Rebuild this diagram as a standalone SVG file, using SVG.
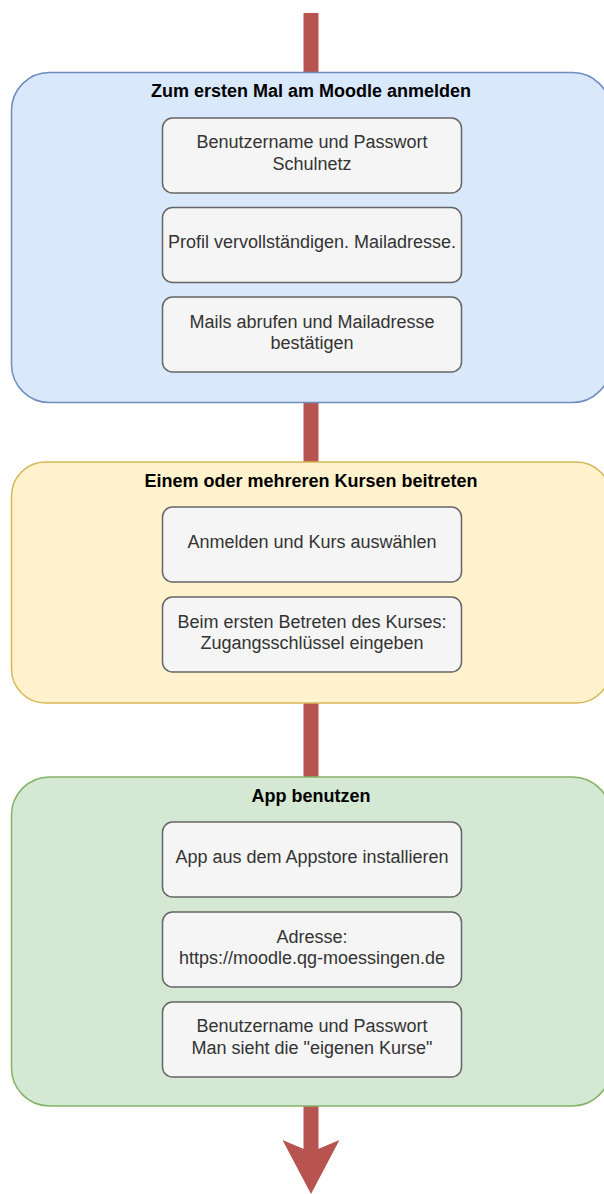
<svg xmlns="http://www.w3.org/2000/svg" width="604" height="1194" viewBox="0 0 604 1194">
  <defs>
    <marker id="arrowHead" markerUnits="userSpaceOnUse" viewBox="0 0 54 57" markerWidth="54" markerHeight="57" refX="12" refY="28.5" orient="auto">
      <path d="M0,0 L12,28.5 L0,57 L54,28.5 Z" fill="#b85450"/>
    </marker>
    <style>
      .conn { stroke: #b85450; stroke-width: 15; fill: none; }
      .blue { fill: #dae8fc; stroke: #6c8ebf; stroke-width: 1.5; }
      .yellow { fill: #fff2cc; stroke: #d6b656; stroke-width: 1.5; }
      .green { fill: #d5e8d4; stroke: #82b366; stroke-width: 1.5; }
      .step { fill: #f5f5f5; stroke: #666666; stroke-width: 1.5; }
      .title { font-family: "Liberation Sans", Arial, sans-serif; font-size: 18px; font-weight: bold; fill: #000000; text-anchor: middle; }
      .label { font-family: "Liberation Sans", Arial, sans-serif; font-size: 18px; fill: #333333; text-anchor: middle; }
    </style>
  </defs>

  <g id="connectors">
    <path class="conn" d="M311,13 L311,74"/>
    <path class="conn" d="M311,401 L311,463"/>
    <path class="conn" d="M311,701 L311,778"/>
    <path class="conn" d="M311,1105 L311,1152" marker-end="url(#arrowHead)"/>
  </g>

  <g id="group-moodle">
    <rect class="blue" x="11.5" y="72.5" width="599" height="330" rx="38" ry="38"/>
    <text class="title" x="311" y="97">Zum ersten Mal am Moodle anmelden</text>
  </g>
  <g id="step-login">
    <rect class="step" x="162.5" y="118" width="299" height="75" rx="10" ry="10"/>
    <text class="label" x="312" y="148">Benutzername und Passwort</text>
    <text class="label" x="312" y="169.5">Schulnetz</text>
  </g>
  <g id="step-profile">
    <rect class="step" x="162.5" y="207.5" width="299" height="75" rx="10" ry="10"/>
    <text class="label" x="312" y="248">Profil vervollständigen. Mailadresse.</text>
  </g>
  <g id="step-confirm">
    <rect class="step" x="162.5" y="297" width="299" height="75" rx="10" ry="10"/>
    <text class="label" x="312" y="327.5">Mails abrufen und Mailadresse</text>
    <text class="label" x="312" y="349">bestätigen</text>
  </g>

  <g id="group-kurse">
    <rect class="yellow" x="11.5" y="462" width="599" height="241" rx="34" ry="34"/>
    <text class="title" x="311" y="486.5">Einem oder mehreren Kursen beitreten</text>
  </g>
  <g id="step-select">
    <rect class="step" x="162.5" y="507" width="299" height="75" rx="10" ry="10"/>
    <text class="label" x="312" y="547.5">Anmelden und Kurs auswählen</text>
  </g>
  <g id="step-key">
    <rect class="step" x="162.5" y="597" width="299" height="75" rx="10" ry="10"/>
    <text class="label" x="312" y="627.5">Beim ersten Betreten des Kurses:</text>
    <text class="label" x="312" y="649">Zugangsschlüssel eingeben</text>
  </g>

  <g id="group-app">
    <rect class="green" x="11.5" y="777" width="599" height="329" rx="38" ry="38"/>
    <text class="title" x="311" y="801.5">App benutzen</text>
  </g>
  <g id="step-install">
    <rect class="step" x="162.5" y="822" width="299" height="75" rx="10" ry="10"/>
    <text class="label" x="312" y="862.5">App aus dem Appstore installieren</text>
  </g>
  <g id="step-address">
    <rect class="step" x="162.5" y="912" width="299" height="75" rx="10" ry="10"/>
    <text class="label" x="312" y="942.5">Adresse:</text>
    <text class="label" x="312" y="964">https://moodle.qg-moessingen.de</text>
  </g>
  <g id="step-credentials">
    <rect class="step" x="162.5" y="1002" width="299" height="75" rx="10" ry="10"/>
    <text class="label" x="312" y="1032">Benutzername und Passwort</text>
    <text class="label" x="312" y="1053.5">Man sieht die "eigenen Kurse"</text>
  </g>
</svg>
